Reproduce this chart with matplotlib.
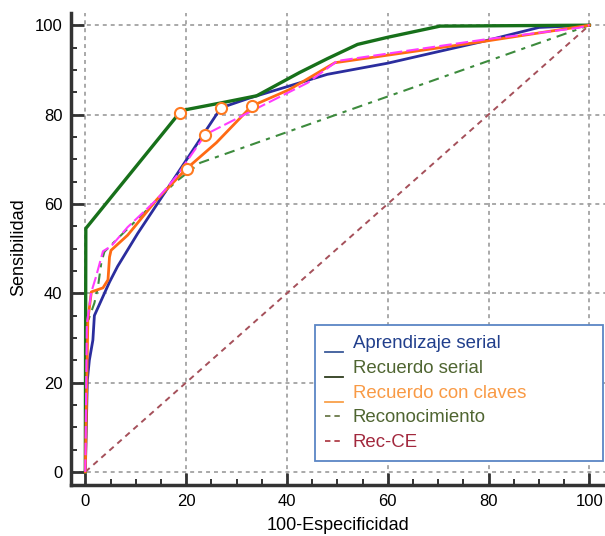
import matplotlib
matplotlib.use("Agg")
import matplotlib.pyplot as plt
from matplotlib.lines import Line2D
from matplotlib.patches import Rectangle

plt.rcParams['font.family'] = ['Liberation Sans', 'DejaVu Sans']

# ---------------- data ----------------
apr_x = [0, 0.4, 0.8, 1.5, 1.8, 3.0, 4.8, 6.4, 10.4, 26.9, 32.6, 40.5, 48, 60, 79, 90, 100]
apr_y = [0, 20.5, 25, 29.5, 35, 38, 42.5, 46, 53.4, 81.5, 83.7, 86.4, 89, 91.5, 96.4, 99.5, 100]

rs_x = [0, 0.1, 18.7, 20, 26.9, 34, 42.5, 48, 54, 60, 70.4, 100]
rs_y = [0, 54.5, 80.4, 81.1, 82.6, 84.2, 89.4, 92.5, 95.7, 97.3, 99.8, 100]

rcc_x = [0, 0.5, 1.2, 3.5, 4.5, 4.8, 5.1, 8.4, 14.2, 20.1, 26, 33, 40.5, 49.5, 79.2, 100]
rcc_y = [0, 34, 40.3, 41.2, 43, 48.1, 49.6, 53, 61, 67.9, 73.7, 81.9, 85.6, 91.6, 96.4, 100]

mag_x = [0, 0.3, 1.2, 2.1, 3.5, 5.1, 8.4, 14.2, 18.1, 23.8, 33, 44.1, 50, 79.2, 97.8, 100]
mag_y = [0, 33, 40.3, 43.6, 49.4, 50.5, 54.8, 61, 66.2, 75.5, 80.8, 87.1, 92, 96.8, 99.4, 100]

rec_x = [0, 0.3, 0.6, 1.8, 2.5, 3.2, 3.8, 8, 18, 22.8, 100]
rec_y = [0, 30, 34, 37.8, 41.4, 47, 49.3, 54, 65, 69.2, 100]

rce_x = [0, 100]
rce_y = [0, 100]

cut_x = [18.7, 23.8, 26.9, 20.1, 33.0]
cut_y = [80.4, 75.5, 81.5, 67.9, 81.9]

ticks = [0, 20, 40, 60, 80, 100]
labels = ["Aprendizaje serial", "Recuerdo serial", "Recuerdo con claves",
          "Reconocimiento", "Rec-CE"]

# ---------------- figure ----------------
W, H = 605, 536
fig = plt.figure(figsize=(W / 100, H / 100), dpi=100)
ax = fig.add_axes([70.7 / W, (H - 485.3) / H, (W - 70.7) / W, (485.3 - 12.7) / H])
ax.set_xlim(-2.9, 103.1)
ax.set_ylim(-3.0, 102.8)

grid_kw = dict(color='#a3a3a3', lw=1.3, ls=(0, (2.2, 2.2)), zorder=0)
ax.set_xticks(ticks)
ax.set_yticks(ticks)
ax.set_xticks(range(0, 101, 5), minor=True)
ax.set_yticks(range(0, 101, 5), minor=True)
ax.grid(True, which='major', **grid_kw)

for s in ['top', 'right']:
    ax.spines[s].set_visible(False)
for s in ['left', 'bottom']:
    ax.spines[s].set_linewidth(2.5)
    ax.spines[s].set_color('#333333')

ax.tick_params(which='major', direction='in', length=9, width=2, color='#333333',
               labelsize=12, pad=6)
ax.tick_params(which='minor', direction='in', length=4, width=1.4, color='#333333')

ax.plot(rce_x, rce_y, color='#a5505a', lw=1.4, ls=(0, (3, 2.5)), zorder=2)
ax.plot(rec_x, rec_y, color='#3d8b3d', lw=1.5, ls=(0, (5, 3, 2, 3)), zorder=3)
ax.plot(apr_x, apr_y, color='#2b2d9e', lw=2.0, zorder=4)
ax.plot(rs_x, rs_y, color='#17701a', lw=2.4, zorder=5)
ax.plot(rcc_x, rcc_y, color='#ff6a13', lw=2.0, zorder=6)
ax.plot(mag_x, mag_y, color='#ff3cff', lw=1.5, ls=(0, (6, 2)), zorder=7)
ax.plot(cut_x, cut_y, ls='none', marker='o', ms=8, mfc='white', mec='#ff7a20',
        mew=1.5, zorder=8)

ax.set_xlabel("100-Especificidad", fontsize=13, va='center')
ax.set_ylabel("Sensibilidad", fontsize=13, va='center')
ax.xaxis.set_label_coords((338 - 70.7) / (W - 70.7), (485.3 - 525) / (485.3 - 12.7))
ax.yaxis.set_label_coords((19 - 70.7) / (W - 70.7), (485.3 - 246.7) / (485.3 - 12.7))

# ---------------- legend (manual, pixel coordinates) ----------------
def fx(px):
    return px / W

def fy(py):
    return 1 - py / H

fig.patches.append(Rectangle((fx(315), fy(461)), fx(603) - fx(315), fy(325) - fy(461),
                             transform=fig.transFigure, facecolor='white',
                             edgecolor='#5b86c5', lw=1.3, zorder=10))
txt_colors = ['#213f8c', '#4f6531', '#f99a45', '#4f6531', '#a2283d']
hnd_colors = ['#3b5a9a', '#2e3d1e', '#f9a04a', '#6b7a4a', '#b0404a']
baselines = [347.7, 372.6, 397.5, 422.4, 447.3]
for i, (lab, tc, hc, b) in enumerate(zip(labels, txt_colors, hnd_colors, baselines)):
    fig.text(fx(353), fy(b), lab, color=tc, fontsize=13.4, va='baseline', ha='left',
             zorder=11)
    if i < 3:
        ln = Line2D([fx(325), fx(343)], [fy(b + 4), fy(b + 4)], color=hc, lw=1.3,
                    transform=fig.transFigure, zorder=11)
    else:
        ln = Line2D([fx(325), fx(343)], [fy(b - 6), fy(b - 6)], color=hc, lw=1.3,
                    ls=(0, (3, 2.2)), transform=fig.transFigure, zorder=11)
    fig.lines.append(ln)

fig.savefig("out.png", dpi=100)
